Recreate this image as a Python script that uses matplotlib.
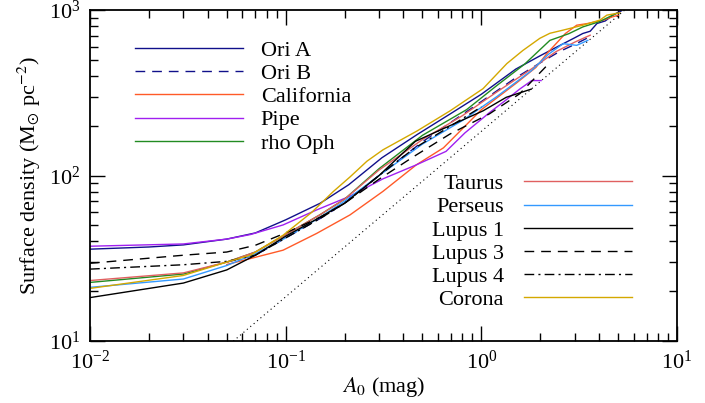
import matplotlib
matplotlib.use("Agg")
import matplotlib.pyplot as plt

plt.rcParams['font.family'] = ['Liberation Serif', 'DejaVu Serif']
plt.rcParams['mathtext.fontset'] = 'stix'

# ---- data (A0 in mag, surface density in Msun/pc^2) ----
oria_x = [0.01, 0.02, 0.03, 0.05, 0.07, 0.1, 0.15, 0.21, 0.31, 0.47, 0.69, 1.0, 1.5, 2.0, 2.43, 3.0, 3.3, 3.6, 3.9, 4.3, 4.7, 5.2]
oria_y = [35.9, 37.0, 38.1, 41.3, 45, 54, 68, 88, 128, 177, 235, 310, 440, 530, 598, 680, 722, 745, 830, 860, 932, 990]

orib_x = [0.05, 0.07, 0.1, 0.15, 0.2, 0.3, 0.5, 0.7, 1.0, 1.5, 2.0, 2.5, 3.0, 3.5]
orib_y = [30, 33, 42, 55, 68, 100, 160, 210, 280, 390, 480, 560, 620, 680]

cal_x = [0.05, 0.066, 0.097, 0.144, 0.213, 0.314, 0.465, 0.64, 1.0, 1.5, 1.9, 2.16, 2.69, 3.07, 3.5, 4.2, 4.67, 5.0]
cal_y = [29, 31.5, 35.4, 44.7, 57.8, 80.2, 116, 147, 250, 360, 450, 545, 722, 810, 830, 869, 910, 930]

pipe_x = [0.01, 0.03, 0.05, 0.066, 0.097, 0.144, 0.213, 0.314, 0.465, 0.66, 0.824, 1.1, 1.32, 1.57, 1.81, 2.02]
pipe_y = [37.4, 38.6, 41.3, 44, 50.3, 62, 75, 95.5, 116, 140, 181, 240, 283, 333, 375, 375]

rho_x = [0.01, 0.03, 0.05, 0.07, 0.1, 0.15, 0.2, 0.3, 0.5, 0.84, 1.2, 1.67, 2.24, 2.8, 3.3, 4.0, 4.9]
rho_y = [22.6, 25.4, 30, 34.5, 44, 58, 72, 110, 175, 250, 350, 473, 656, 720, 791, 850, 955]

tau_x = [0.01, 0.03, 0.05, 0.07, 0.1, 0.15, 0.2, 0.3, 0.5, 0.8, 1.2, 1.8, 2.4, 3.0, 3.6]
tau_y = [23.2, 25.8, 30, 34.5, 44, 58, 72, 108, 165, 230, 320, 440, 560, 640, 705]

per_x = [0.01, 0.03, 0.05, 0.07, 0.1, 0.15, 0.2, 0.3, 0.5, 0.8, 1.2, 1.8, 2.2, 2.62, 3.07, 3.5]
per_y = [21.1, 23.7, 28.6, 33.7, 42, 56, 70, 100, 155, 215, 300, 430, 540, 627, 612, 656]

lup1_x = [0.01, 0.03, 0.05, 0.07, 0.1, 0.15, 0.2, 0.3, 0.46, 0.69, 1.02, 1.34, 1.8]
lup1_y = [18.3, 22.4, 26.9, 33, 43, 56, 68, 100, 161, 200, 246, 297, 333]

lup3_x = [0.01, 0.03, 0.05, 0.07, 0.1, 0.15, 0.2, 0.3, 0.45, 0.69, 1.1, 1.57, 2.24]
lup3_y = [29.5, 33, 34.5, 37.9, 45, 56, 68, 95, 130, 178, 236, 312, 482]

lup4_x = [0.01, 0.03, 0.05, 0.07, 0.1, 0.15, 0.2, 0.3, 0.45, 0.7, 1.0]
lup4_y = [27.2, 28.9, 30.3, 33, 42, 55, 68, 100, 145, 200, 260]

cor_x = [0.01, 0.03, 0.05, 0.066, 0.097, 0.136, 0.175, 0.213, 0.26, 0.314, 0.469, 0.692, 1.02, 1.35, 1.63, 1.99, 2.24, 2.61, 3.3, 4.03, 4.38, 5.11]
cor_y = [20.8, 24.9, 30, 33, 43.6, 60, 80, 98, 122, 143, 185.9, 246, 335, 475, 570, 675, 724, 756, 810, 869, 932, 963]

lin_x = [0.054, 5.5]
lin_coef = 185.0

fig = plt.figure(figsize=(7.05, 4.03), dpi=100)
ax = fig.add_axes([0.1277, 0.1538, 0.9603 - 0.1277, 0.975 - 0.1538])
ax.set_xscale('log')
ax.set_yscale('log')
ax.set_xlim(0.01, 10)
ax.set_ylim(10, 1000)

lw = 1.0
h1 = []
h1 += ax.plot(oria_x, oria_y, color='#10108a', lw=lw, label='Ori A')
h1 += ax.plot(orib_x, orib_y, color='#10108a', lw=lw, dashes=(7, 5), label='Ori B')
h1 += ax.plot(cal_x, cal_y, color='#ff5a28', lw=lw, label='California')
h1 += ax.plot(pipe_x, pipe_y, color='#a020f0', lw=lw, label='Pipe')
h1 += ax.plot(rho_x, rho_y, color='#228b22', lw=lw, label='rho Oph')
h2 = []
h2 += ax.plot(tau_x, tau_y, color='#e06060', lw=lw, label='Taurus')
h2 += ax.plot(per_x, per_y, color='#3399ff', lw=lw, label='Perseus')
h2 += ax.plot(lup1_x, lup1_y, color='black', lw=lw, label='Lupus 1')
h2 += ax.plot(lup3_x, lup3_y, color='black', lw=lw, dashes=(7, 5), label='Lupus 3')
h2 += ax.plot(lup4_x, lup4_y, color='black', lw=lw, dashes=(7, 3, 1.5, 3), label='Lupus 4')
h2 += ax.plot(cor_x, cor_y, color='#d4a800', lw=lw, label='Corona')
ax.plot(lin_x, [lin_coef * v for v in lin_x], color='black', lw=0.8, ls=(0, (1, 3)))

fs = 16
leg1 = ax.legend(handles=h1, loc='upper left', bbox_to_anchor=(0.0767, 0.909), frameon=False,
                 fontsize=fs, handlelength=4.86, handletextpad=0.8, labelspacing=0.12,
                 borderaxespad=0, borderpad=0)
ax.add_artist(leg1)
leg2 = ax.legend(handles=h2, loc='lower right', bbox_to_anchor=(0.923, 0.093), frameon=False,
                 fontsize=fs, handlelength=4.86, handletextpad=0.9, labelspacing=0.12,
                 markerfirst=False, borderaxespad=0, borderpad=0)
for t in leg2.get_texts():
    t.set_ha('right')

ax.tick_params(which='both', direction='in', top=True, right=True, labelsize=16, width=1.0)
ax.tick_params(which='major', length=11, pad=7)
ax.tick_params(which='minor', length=6)
for s in ax.spines.values():
    s.set_linewidth(1.3)

ax.set_xlabel(r'$A_0$ (mag)', fontsize=16, labelpad=1)
ax.set_ylabel(r'Surface density (M$_{\odot}$ pc$^{-2}$)', fontsize=16, labelpad=4)

fig.savefig('out.png', dpi=100)
